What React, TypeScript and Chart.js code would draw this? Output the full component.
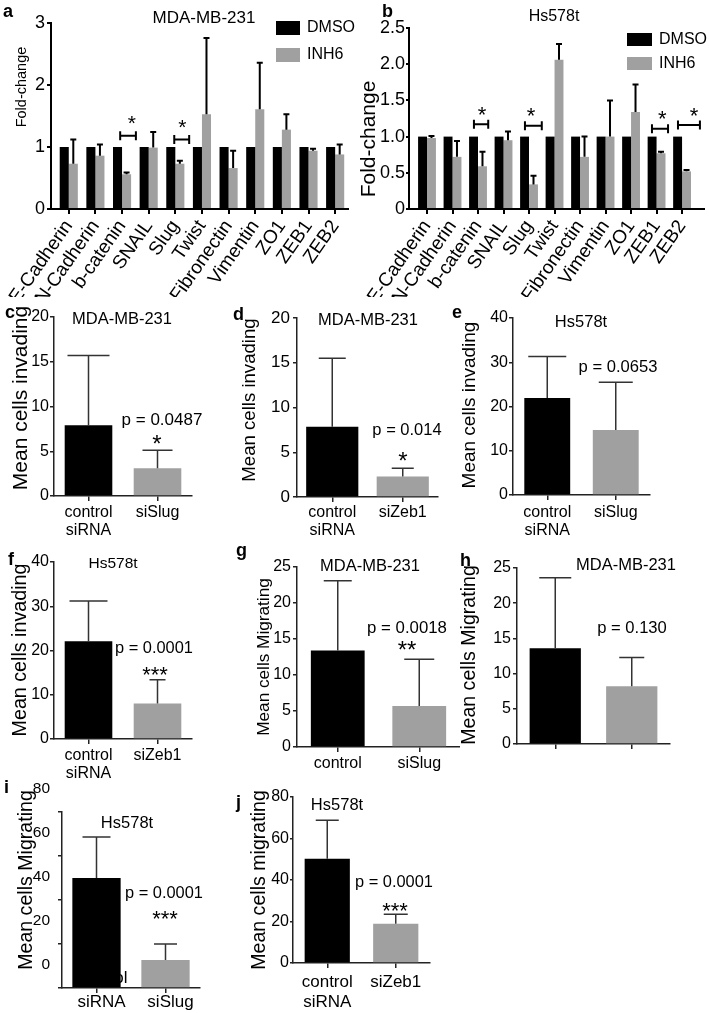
import React, { useEffect, useRef } from 'react';
import { Chart, registerables } from 'chart.js';

Chart.register(...registerables);

const FONT = '"Liberation Sans", Arial, Helvetica, sans-serif';
const BLACK = '#000000';
const GRAY = '#a0a0a0';

// ---------- panels a / b : EMT gene expression ----------
const genes = ['E-Cadherin', 'N-Cadherin', 'b-catenin', 'SNAIL', 'Slug', 'Twist', 'Fibronectin', 'Vimentin', 'ZO1', 'ZEB1', 'ZEB2'];
const mdaDMSO = [1, 1, 1, 1, 1, 1, 1, 1, 1, 1, 1];
const mdaINH6 = [0.73, 0.86, 0.56, 0.99, 0.73, 1.53, 0.66, 1.61, 1.28, 0.94, 0.88];
const mdaINH6Err = [0.39, 0.18, 0.03, 0.25, 0.05, 1.23, 0.28, 0.75, 0.25, 0.03, 0.16];
const hsDMSO = [1, 1, 1, 1, 1, 1, 1, 1, 1, 1, 1];
const hsINH6 = [0.98, 0.72, 0.59, 0.95, 0.34, 2.06, 0.72, 1.0, 1.34, 0.77, 0.52];
const hsINH6Err = [0.03, 0.22, 0.2, 0.12, 0.12, 0.22, 0.28, 0.5, 0.38, 0.02, 0.02];
const foldTicksA = [0, 1, 2, 3];
const foldTicksB = [0, 0.5, 1, 1.5, 2, 2.5];
const mdaSigIdx = [2, 4];
const mdaSigLevel = [1.18, 1.12];
const hsSigIdx = [2, 4, 9, 10];
const hsSigLevel = [1.17, 1.15, 1.11, 1.16];

// ---------- panels c - j : invasion / migration ----------
const labelsCtrlSlug = [['control', 'siRNA'], 'siSlug'];
const labelsCtrlZeb = [['control', 'siRNA'], 'siZeb1'];
const labelsGSlug = ['control', 'siSlug'];
const labelsHZeb = ['control', 'siZeb1'];
const labelsISlug = ['siRNA', 'siSlug'];

const cVals = [7.9, 3.1];
const cErr = [7.8, 2.0];
const dVals = [7.85, 2.3];
const dErr = [7.65, 0.9];
const eVals = [21.9, 14.7];
const eErr = [9.4, 10.8];
const fVals = [22.1, 8.0];
const fErr = [9.1, 5.4];
const gVals = [13.4, 5.7];
const gErr = [9.7, 6.5];
const hVals = [13.6, 8.2];
const hErr = [10.0, 4.1];
const iVals = [50, 12.7];
const iErr = [18.6, 7.3];
const jVals = [50.2, 18.9];
const jErr = [18.6, 4.6];

const ticks20 = [0, 5, 10, 15, 20];
const ticks40 = [0, 10, 20, 30, 40];
const ticks25 = [0, 5, 10, 15, 20, 25];
const ticks80 = [0, 20, 40, 60, 80];

type TextItem = {
  text: string; x: number; y: number; size: number;
  bold?: boolean; rotate?: boolean; align?: CanvasTextAlign; baseline?: CanvasTextBaseline; star?: boolean;
};

function drawText(ctx: CanvasRenderingContext2D, t: TextItem, ox: number, oy: number) {
  ctx.save();
  ctx.font = `${t.bold ? 'bold ' : ''}${t.size}px ${FONT}`;
  ctx.fillStyle = '#000';
  ctx.textAlign = t.align || 'center';
  let y = t.y;
  if (t.star) {
    ctx.textBaseline = 'alphabetic';
    y = t.y + 0.575 * t.size;
  } else {
    ctx.textBaseline = t.baseline || 'middle';
  }
  ctx.translate(t.x - ox, y - oy);
  if (t.rotate) ctx.rotate(-Math.PI / 2);
  ctx.fillText(t.text, 0, 0);
  ctx.restore();
}

const pairBase = {
  gene: false,
  catPct: 1,
  axisColor: '#222',
  axisW: 1.5,
  errColor: '#333',
  errW: 1.5,
  xRot: 0,
  xTickLen: 5,
  xLine: 1.15,
  xShow: true,
};

const panels: any[] = [
  {
    box: [0, 0, 356, 297],
    area: { l: 51, t: 23, r: 352, b: 209 },
    gene: true, xMin: -0.667, xMax: 10.48,
    labels: genes,
    series: [
      { label: 'DMSO', data: mdaDMSO, color: BLACK },
      { label: 'INH6', data: mdaINH6, err: mdaINH6Err, color: GRAY },
    ],
    yTicks: foldTicksA, yMax: 3, yFmt: (v: number) => String(v),
    yFont: 18, yTickLen: 4, yPad: 2,
    xFont: 19, xRot: 55, xTickLen: 5, xPad: 2, xLine: 1.2, xShow: true,
    barPct: 1, catPct: 0.68,
    axisColor: '#000', axisW: 2,
    errColor: '#000', errW: 2, cap: 3,
    sig: mdaSigIdx.map((idx, k) => ({ i: idx, y: mdaSigLevel[k], ...[{ x0: -0.07, x1: 0.52, star: 0.37 }, { x0: -0.04, x1: 0.52, star: 0.26 }][k] })),
    sigStarSize: 21, sigStarUp: 18,
    legend: { x: 276, ys: [21, 48], w: 24, h: 14, textX: 307, size: 16 },
    texts: [
      { text: 'Fold-change', x: 22, y: 87, size: 14.5, rotate: true },
      { text: 'MDA-MB-231', x: 204, y: 18, size: 17 },
      { text: 'a', x: 3, y: 17, size: 18, bold: true, align: 'left', baseline: 'alphabetic' },
    ],
  },
  {
    box: [356, 0, 353, 297],
    area: { l: 409, t: 28, r: 704, b: 209 },
    gene: true, xMin: -0.706, xMax: 10.86,
    labels: genes,
    series: [
      { label: 'DMSO', data: hsDMSO, color: BLACK },
      { label: 'INH6', data: hsINH6, err: hsINH6Err, color: GRAY },
    ],
    yTicks: foldTicksB, yMax: 2.5, yFmt: (v: number) => (v === 0 ? '0' : v.toFixed(1)),
    yFont: 18, yTickLen: 3, yPad: 1,
    xFont: 19, xRot: 55, xTickLen: 5, xPad: 2, xLine: 1.2, xShow: true,
    barPct: 1, catPct: 0.7,
    axisColor: '#000', axisW: 2,
    errColor: '#000', errW: 2, cap: 3,
    sig: hsSigIdx.map((idx, k) => ({
      i: idx, y: hsSigLevel[k],
      ...[{ x0: -0.16, x1: 0.4, star: 0.16 }, { x0: -0.16, x1: 0.5, star: 0.08 }, { x0: -0.18, x1: 0.45, star: 0.22 }, { x0: -0.16, x1: 0.7, star: 0.47 }][k],
    })),
    sigStarSize: 22, sigStarUp: 15,
    legend: { x: 627, ys: [33, 57], w: 25, h: 13, textX: 659, size: 16 },
    texts: [
      { text: 'Fold-change', x: 369, y: 139, size: 21, rotate: true },
      { text: 'Hs578t', x: 554, y: 17, size: 16 },
      { text: 'b', x: 382, y: 17, size: 18, bold: true, align: 'left', baseline: 'alphabetic' },
    ],
  },
  {
    ...pairBase,
    box: [0, 300, 205, 240],
    area: { l: 54, t: 317, r: 192, b: 496 },
    labels: labelsCtrlSlug,
    series: [{ label: 'invading', data: cVals, err: cErr, color: [BLACK, GRAY] }],
    yTicks: ticks20, yMax: 20, yFont: 16, yTickLen: 4, yPad: 1,
    xFont: 16, xPad: 2, barPct: 0.69, cap: [21, 15],
    texts: [
      { text: 'Mean cells invading', x: 21, y: 398, size: 21, rotate: true },
      { text: 'MDA-MB-231', x: 122, y: 319, size: 16.5 },
      { text: 'p = 0.0487', x: 162, y: 420, size: 17 },
      { text: '*', x: 157, y: 438, size: 24, star: true },
      { text: 'c', x: 5, y: 318, size: 18, bold: true, align: 'left', baseline: 'alphabetic' },
    ],
  },
  {
    ...pairBase,
    box: [232, 300, 215, 240],
    area: { l: 297, t: 318, r: 438, b: 497 },
    labels: labelsCtrlZeb,
    series: [{ label: 'invading', data: dVals, err: dErr, color: [BLACK, GRAY] }],
    yTicks: ticks20, yMax: 20, yFont: 17, yTickLen: 4, yPad: 3,
    xFont: 16, xPad: 1, barPct: 0.74, cap: [13.5, 11],
    texts: [
      { text: 'Mean cells invading', x: 250, y: 400, size: 18.6, rotate: true },
      { text: 'MDA-MB-231', x: 368, y: 320, size: 16.5 },
      { text: 'p = 0.014', x: 407, y: 430, size: 16.5 },
      { text: '*', x: 403, y: 455, size: 24, star: true },
      { text: 'd', x: 233, y: 320, size: 18, bold: true, align: 'left', baseline: 'alphabetic' },
    ],
  },
  {
    ...pairBase,
    box: [448, 300, 261, 240],
    area: { l: 513, t: 318, r: 650, b: 495 },
    labels: labelsCtrlSlug,
    series: [{ label: 'invading', data: eVals, err: eErr, color: [BLACK, GRAY] }],
    yTicks: ticks40, yMax: 40, yFont: 16, yTickLen: 4, yPad: 1,
    xFont: 16, xPad: 3, barPct: 0.67, cap: [19, 17],
    texts: [
      { text: 'Mean cells invading', x: 470, y: 405, size: 19, rotate: true },
      { text: 'Hs578t', x: 581, y: 322, size: 16.5 },
      { text: 'p = 0.0653', x: 618, y: 367, size: 16.6 },
      { text: 'e', x: 452, y: 318, size: 18, bold: true, align: 'left', baseline: 'alphabetic' },
    ],
  },
  {
    ...pairBase,
    box: [0, 545, 205, 240],
    area: { l: 54, t: 562, r: 192, b: 739 },
    labels: labelsCtrlZeb,
    series: [{ label: 'invading', data: fVals, err: fErr, color: [BLACK, GRAY] }],
    yTicks: ticks40, yMax: 40, yFont: 16, yTickLen: 4, yPad: 1,
    xFont: 16, xPad: 2, barPct: 0.69, cap: [19, 8],
    texts: [
      { text: 'Mean cells invading', x: 21, y: 650, size: 19.7, rotate: true },
      { text: 'Hs578t', x: 113, y: 564, size: 15.5 },
      { text: 'p = 0.0001', x: 154, y: 648, size: 16.4 },
      { text: '***', x: 155, y: 669, size: 22, star: true },
      { text: 'f', x: 8, y: 565, size: 18, bold: true, align: 'left', baseline: 'alphabetic' },
    ],
  },
  {
    ...pairBase,
    box: [232, 545, 228, 240],
    area: { l: 297, t: 567, r: 460, b: 747 },
    labels: labelsGSlug,
    series: [{ label: 'migrating', data: gVals, err: gErr, color: [BLACK, GRAY] }],
    yTicks: ticks25, yMax: 25, yFont: 16, yTickLen: 4, yPad: 2,
    xFont: 16, xPad: 2, barPct: 0.66, cap: [14, 15],
    texts: [
      { text: 'Mean cells Migrating', x: 264, y: 657, size: 17.2, rotate: true },
      { text: 'MDA-MB-231', x: 370, y: 566, size: 16.5 },
      { text: 'p = 0.0018', x: 407, y: 628, size: 16.8 },
      { text: '**', x: 407, y: 644, size: 24, star: true },
      { text: 'g', x: 236, y: 556, size: 18, bold: true, align: 'left', baseline: 'alphabetic' },
    ],
  },
  {
    ...pairBase,
    box: [460, 545, 249, 240],
    area: { l: 517, t: 568, r: 670, b: 744 },
    labels: labelsHZeb, xShow: false,
    series: [{ label: 'migrating', data: hVals, err: hErr, color: [BLACK, GRAY] }],
    yTicks: ticks25, yMax: 25, yFont: 16, yTickLen: 4, yPad: 2,
    xFont: 16, xPad: 2, barPct: 0.67, cap: [16, 12.5],
    texts: [
      { text: 'Mean cells Migrating', x: 470, y: 655, size: 19.6, rotate: true },
      { text: 'MDA-MB-231', x: 626, y: 565, size: 16.5 },
      { text: 'p = 0.130', x: 632, y: 628, size: 16.6 },
      { text: 'h', x: 460, y: 566, size: 18, bold: true, align: 'left', baseline: 'alphabetic' },
    ],
  },
  {
    ...pairBase,
    box: [0, 770, 232, 243],
    area: { l: 62, t: 812, r: 200, b: 988 },
    labels: labelsISlug, xLabelOffset: 5,
    series: [{ label: 'migrating', data: iVals, err: iErr, color: [BLACK, GRAY] }],
    yTicks: ticks80, yMax: 80, yFont: 15.5, yTickLen: 4, yPad: 8, yLabelOffset: -23,
    xFont: 17, xPad: 0, barPct: 0.7, cap: [14, 11.5],
    under: [{ text: 'control', x: 102, y: 983, size: 17, baseline: 'alphabetic' }],
    texts: [
      { text: 'Mean cells Migrating', x: 27, y: 880, size: 19.6, rotate: true },
      { text: 'Hs578t', x: 127, y: 823, size: 16.5 },
      { text: 'p = 0.0001', x: 164, y: 893, size: 16.4 },
      { text: '***', x: 165, y: 913, size: 22, star: true },
      { text: 'i', x: 4, y: 793, size: 18, bold: true, align: 'left', baseline: 'alphabetic' },
    ],
  },
  {
    ...pairBase,
    box: [232, 770, 240, 243],
    area: { l: 293, t: 797, r: 430, b: 963 },
    labels: labelsCtrlZeb, xLine: 1.2,
    series: [{ label: 'migrating', data: jVals, err: jErr, color: [BLACK, GRAY] }],
    yTicks: ticks80, yMax: 80, yFont: 16, yTickLen: 3, yPad: 1,
    xFont: 17, xPad: 4, barPct: 0.66, cap: [11.5, 12],
    texts: [
      { text: 'Mean cells migrating', x: 260, y: 880, size: 19.6, rotate: true },
      { text: 'Hs578t', x: 337, y: 805, size: 16.5 },
      { text: 'p = 0.0001', x: 394, y: 882, size: 16.4 },
      { text: '***', x: 395, y: 905, size: 22, star: true },
      { text: 'j', x: 236, y: 808, size: 18, bold: true, align: 'left', baseline: 'alphabetic' },
    ],
  },
];

function annotPlugin(spec: any) {
  const ox = spec.box[0];
  const oy = spec.box[1];
  return {
    id: 'annot',
    beforeDatasetsDraw(chart: any) {
      (spec.under || []).forEach((t: TextItem) => drawText(chart.ctx, t, ox, oy));
    },
    afterDatasetsDraw(chart: any) {
      const ctx: CanvasRenderingContext2D = chart.ctx;
      const xs = chart.scales.x;
      const ys = chart.scales.y;
      // error bars
      spec.series.forEach((s: any, di: number) => {
        if (!s.err) return;
        const meta = chart.getDatasetMeta(di);
        meta.data.forEach((el: any, i: number) => {
          const e = s.err[i];
          if (!e) return;
          const x = el.x;
          const y0 = ys.getPixelForValue(s.data[i]);
          const y1 = ys.getPixelForValue(s.data[i] + e);
          const cap = Array.isArray(spec.cap) ? spec.cap[i] : spec.cap;
          ctx.save();
          ctx.strokeStyle = spec.errColor;
          ctx.lineWidth = spec.errW;
          ctx.beginPath();
          ctx.moveTo(x, y0);
          ctx.lineTo(x, y1);
          ctx.moveTo(x - cap, y1);
          ctx.lineTo(x + cap, y1);
          ctx.stroke();
          ctx.restore();
        });
      });
      // significance brackets
      if (spec.sig) {
        const unit = xs.getPixelForValue(1) - xs.getPixelForValue(0);
        spec.sig.forEach((g: any) => {
          const c = xs.getPixelForValue(g.i);
          const y = ys.getPixelForValue(g.y);
          const a = c + g.x0 * unit;
          const b = c + g.x1 * unit;
          ctx.save();
          ctx.strokeStyle = '#000';
          ctx.lineWidth = 2;
          ctx.beginPath();
          ctx.moveTo(a, y);
          ctx.lineTo(b, y);
          ctx.moveTo(a, y - 4.5);
          ctx.lineTo(a, y + 4.5);
          ctx.moveTo(b, y - 4.5);
          ctx.lineTo(b, y + 4.5);
          ctx.stroke();
          ctx.restore();
          drawText(ctx, { text: '*', x: c + g.star * unit + ox, y: y - spec.sigStarUp + oy, size: spec.sigStarSize, star: true }, ox, oy);
        });
      }
      // legend
      if (spec.legend) {
        const L = spec.legend;
        spec.series.forEach((s: any, k: number) => {
          ctx.save();
          ctx.fillStyle = s.color;
          ctx.fillRect(L.x - ox, L.ys[k] - oy, L.w, L.h);
          ctx.restore();
          drawText(ctx, { text: s.label, x: L.textX, y: L.ys[k] + L.h / 2, size: L.size, align: 'left' }, ox, oy);
        });
      }
      (spec.texts || []).forEach((t: TextItem) => drawText(ctx, t, ox, oy));
    },
  };
}

function Panel({ spec }: { spec: any }) {
  const ref = useRef<HTMLCanvasElement>(null);
  useEffect(() => {
    const canvas = ref.current;
    if (!canvas) return;
    const [bl, bt, bw, bh] = spec.box;
    const { l, t, r, b } = spec.area;
    const labels = spec.labels;
    const datasets = spec.series.map((s: any) => ({
      label: s.label,
      data: spec.gene ? s.data.map((v: number, i: number) => ({ x: i, y: v })) : s.data,
      backgroundColor: s.color,
      borderWidth: 0,
      barPercentage: spec.barPct,
      categoryPercentage: spec.catPct,
    }));
    const xScale: any = {
      type: spec.gene ? 'linear' : 'category',
      offset: !spec.gene,
      grid: {
        display: true, drawOnChartArea: false, drawTicks: true, tickLength: spec.xTickLen,
        color: spec.axisColor, lineWidth: spec.axisW, offset: false,
      },
      border: { display: true, color: spec.axisColor, width: spec.axisW },
      ticks: {
        display: spec.xShow,
        autoSkip: false,
        maxRotation: spec.xRot,
        minRotation: spec.xRot,
        font: { family: FONT, size: spec.xFont, lineHeight: spec.xLine },
        color: '#000',
        padding: spec.xPad,
        labelOffset: spec.xLabelOffset || 0,
        callback: (v: number) => labels[v],
      },
      afterFit: (s: any) => { s.height = bt + bh - b; },
    };
    if (spec.gene) {
      xScale.min = spec.xMin;
      xScale.max = spec.xMax;
      xScale.bounds = 'data';
      xScale.afterBuildTicks = (s: any) => { s.ticks = labels.map((_: any, i: number) => ({ value: i })); };
    }
    const chart = new Chart(canvas, {
      type: 'bar',
      data: spec.gene ? { datasets } : { labels, datasets },
      options: {
        responsive: false,
        animation: false,
        events: [],
        layout: { padding: { left: 0, top: t - bt, right: bl + bw - r, bottom: 0 } },
        plugins: { legend: { display: false }, tooltip: { enabled: false }, title: { display: false } },
        scales: {
          x: xScale,
          y: {
            type: 'linear',
            min: 0,
            max: spec.yMax,
            bounds: 'data',
            grid: {
              display: true, drawOnChartArea: false, drawTicks: true, tickLength: spec.yTickLen,
              color: spec.axisColor, lineWidth: spec.axisW,
            },
            border: { display: true, color: spec.axisColor, width: spec.axisW },
            ticks: {
              font: { family: FONT, size: spec.yFont },
              color: '#000',
              padding: spec.yPad,
              labelOffset: spec.yLabelOffset || 0,
              callback: (v: number) => (spec.yFmt ? spec.yFmt(v) : String(v)),
            },
            afterBuildTicks: (s: any) => { s.ticks = spec.yTicks.map((v: number) => ({ value: v })); },
            afterFit: (s: any) => { s.width = l - bl; },
          },
        },
      } as any,
      plugins: [annotPlugin(spec)],
    });
    return () => chart.destroy();
  }, [spec]);
  const [bl, bt, bw, bh] = spec.box;
  return (
    <canvas
      ref={ref}
      width={bw}
      height={bh}
      style={{ position: 'absolute', left: bl, top: bt, width: bw, height: bh }}
    />
  );
}

export default function App() {
  return (
    <div style={{ position: 'absolute', left: 0, top: 0, width: 709, height: 1013, background: '#ffffff', overflow: 'hidden' }}>
      {panels.map((p, i) => (
        <Panel key={i} spec={p} />
      ))}
    </div>
  );
}
